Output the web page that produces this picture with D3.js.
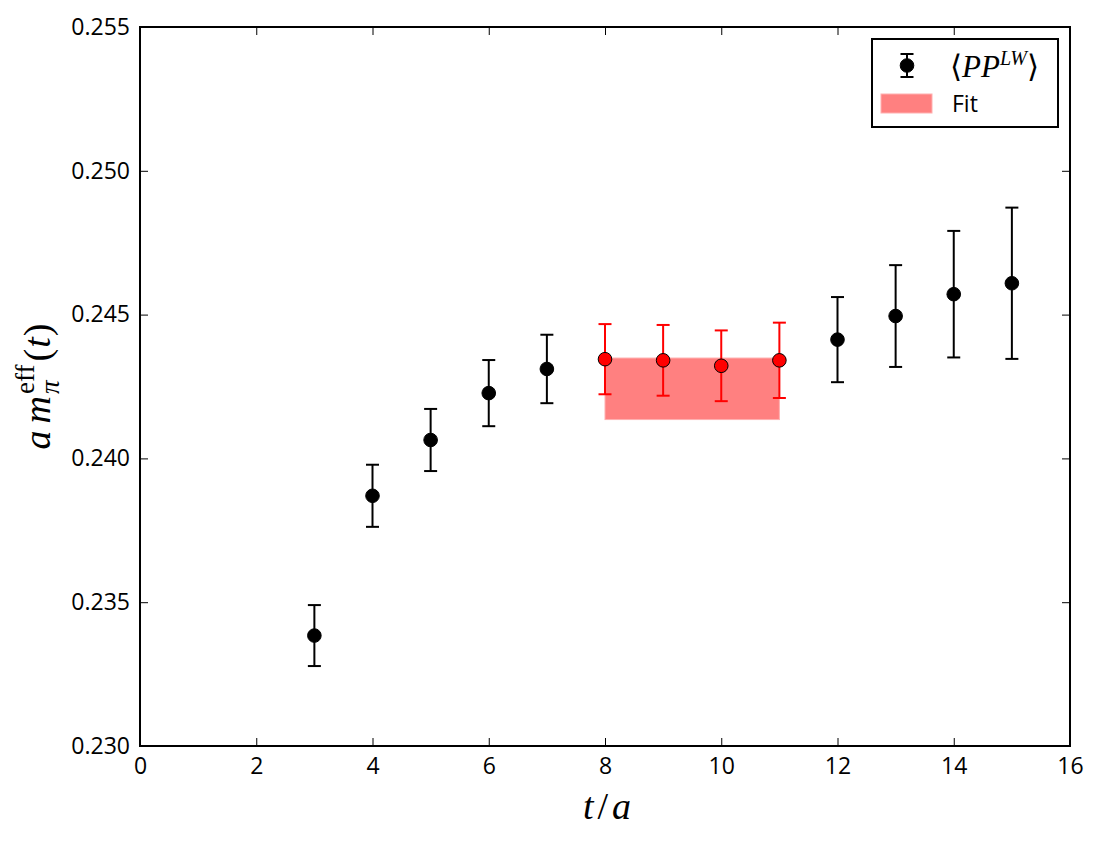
<!DOCTYPE html>
<html>
<head>
<meta charset="UTF-8">
<title>Effective pion mass</title>
<style>
  body { margin: 0; background: #fff; }
  .tick text { font-family: "Open Sans", sans-serif; font-size: 23px; fill: #000; }
  .tick line { stroke: #000; stroke-width: 1; }
  .math { font-family: "Liberation Serif", "DejaVu Serif", serif; }
</style>
</head>
<body>
<script src="https://d3js.org/d3.v7.min.js"></script>
<script>
// data (t/a, a m_eff, error)
var tAll   = [3, 4, 5, 6, 7, 12, 13, 14, 15];
var mAll   = [0.23384, 0.23870, 0.24064, 0.24227, 0.24311, 0.24413, 0.24495, 0.24571, 0.24609];
var errAll = [0.00106, 0.00108, 0.00108, 0.00115, 0.00119, 0.00148, 0.00177, 0.00220, 0.00263];

var tFit   = [8, 9, 10, 11];
var mFit   = [0.24345, 0.24341, 0.24322, 0.24341];
var errFit = [0.00122, 0.00123, 0.00123, 0.00131];

// fit band: [t start, t end], [low, high]
var fitRange = [8, 11];
var fitBand  = [0.24135, 0.24349];

var xTicks = [0, 2, 4, 6, 8, 10, 12, 14, 16];
var yTicks = [0.230, 0.235, 0.240, 0.245, 0.250, 0.255];

var W = 1100, H = 845;
var mLeft = 140, mRight = 1070, mTop = 27, mBottom = 746;

var svg = d3.select("body").append("svg")
  .attr("width", W).attr("height", H);

var x = d3.scaleLinear().domain([0, 16]).range([mLeft, mRight]);
var y = d3.scaleLinear().domain([0.230, 0.255]).range([mBottom, mTop]);

// axes, ticks inward on all four sides
svg.append("g").attr("transform", "translate(0," + mBottom + ")")
  .call(d3.axisBottom(x).tickValues(xTicks).tickFormat(d3.format("d"))
    .tickSizeInner(-8).tickSizeOuter(0).tickPadding(12))
  .call(function(g) { g.select(".domain").remove(); });

svg.append("g").attr("transform", "translate(" + mLeft + ",0)")
  .call(d3.axisLeft(y).tickValues(yTicks).tickFormat(d3.format(".3f"))
    .tickSizeInner(-8).tickSizeOuter(0).tickPadding(10))
  .call(function(g) { g.select(".domain").remove(); });

svg.append("g").attr("transform", "translate(0," + mTop + ")")
  .call(d3.axisTop(x).tickValues(xTicks).tickFormat("").tickSizeInner(-8).tickSizeOuter(0))
  .call(function(g) { g.select(".domain").remove(); });

svg.append("g").attr("transform", "translate(" + mRight + ",0)")
  .call(d3.axisRight(y).tickValues(yTicks).tickFormat("").tickSizeInner(-8).tickSizeOuter(0))
  .call(function(g) { g.select(".domain").remove(); });

// fit band (behind points)
svg.append("rect")
  .attr("x", x(fitRange[0])).attr("y", y(fitBand[1]))
  .attr("width", x(fitRange[1]) - x(fitRange[0]))
  .attr("height", y(fitBand[0]) - y(fitBand[1]))
  .attr("fill", "#ff8080").attr("stroke", "#ffb0b0").attr("stroke-width", 1);

function drawSeries(ts, ms, es, color, edge) {
  var data = ts.map(function(t, i) { return {t: t, m: ms[i], e: es[i]}; });
  var g = svg.append("g");
  var eb = g.selectAll(".eb").data(data).enter().append("g")
    .attr("stroke", color).attr("stroke-width", 2);
  eb.append("line")
    .attr("x1", function(d) { return x(d.t); }).attr("x2", function(d) { return x(d.t); })
    .attr("y1", function(d) { return y(d.m - d.e); }).attr("y2", function(d) { return y(d.m + d.e); });
  [-1, 1].forEach(function(s) {
    eb.append("line")
      .attr("x1", function(d) { return x(d.t) - 6.5; }).attr("x2", function(d) { return x(d.t) + 6.5; })
      .attr("y1", function(d) { return y(d.m + s * d.e); }).attr("y2", function(d) { return y(d.m + s * d.e); });
  });
  g.selectAll("circle").data(data).enter().append("circle")
    .attr("cx", function(d) { return x(d.t); })
    .attr("cy", function(d) { return y(d.m); })
    .attr("r", 6.8)
    .attr("fill", color).attr("stroke", edge).attr("stroke-width", 1);
}
drawSeries(tAll, mAll, errAll, "#000", "#000");
drawSeries(tFit, mFit, errFit, "#ff0000", "#000");

// frame
svg.append("rect")
  .attr("x", mLeft).attr("y", mTop)
  .attr("width", mRight - mLeft).attr("height", mBottom - mTop)
  .attr("fill", "none").attr("stroke", "#000").attr("stroke-width", 2);

// x label  t/a
var xl = svg.append("text").attr("class", "math")
  .attr("x", (mLeft + mRight) / 2 + 2).attr("y", 819)
  .attr("text-anchor", "middle").attr("font-size", 38);
xl.append("tspan").attr("font-style", "italic").text("t");
xl.append("tspan").attr("dx", 4).text("/");
xl.append("tspan").attr("dx", 4).attr("font-style", "italic").text("a");

// y label  a m^eff_pi (t)
function measure(str, size, italic) {
  var t = svg.append("text").attr("class", "math").attr("font-size", size)
    .attr("font-style", italic ? "italic" : "normal").text(str);
  var w = t.node().getComputedTextLength();
  t.remove();
  return w;
}
var effW = measure("eff", 27, false);
var piW = measure("\u03c0", 27, true);

var yl = svg.append("text").attr("class", "math")
  .attr("transform", "translate(50," + ((mTop + mBottom) / 2) + ") rotate(-90)")
  .attr("text-anchor", "middle").attr("font-size", 38);
yl.append("tspan").attr("font-style", "italic").text("a");
yl.append("tspan").attr("font-style", "italic").attr("dx", 7).text("m");
yl.append("tspan").attr("font-size", 27).attr("dy", -16).attr("dx", 2).text("eff");
yl.append("tspan").attr("font-size", 27).attr("font-style", "italic")
  .attr("dx", -effW).attr("dy", 25).text("\u03c0");
yl.append("tspan").attr("dx", effW - piW + 3).attr("dy", -9).text("(");
yl.append("tspan").attr("font-style", "italic").attr("dx", 1).text("t");
yl.append("tspan").attr("dx", 1).text(")");

// legend
var lg = svg.append("g");
lg.append("rect")
  .attr("x", 872).attr("y", 39).attr("width", 186).attr("height", 88)
  .attr("fill", "#fff").attr("stroke", "#000").attr("stroke-width", 2);
var lm = lg.append("g").attr("stroke", "#000").attr("stroke-width", 2);
lm.append("line").attr("x1", 907).attr("x2", 907).attr("y1", 54).attr("y2", 77);
lm.append("line").attr("x1", 900.5).attr("x2", 913.5).attr("y1", 54).attr("y2", 54);
lm.append("line").attr("x1", 900.5).attr("x2", 913.5).attr("y1", 77).attr("y2", 77);
lg.append("circle").attr("cx", 907).attr("cy", 65.5).attr("r", 6.8)
  .attr("fill", "#000").attr("stroke", "#000");
var ll = lg.append("text").attr("class", "math")
  .attr("x", 950).attr("y", 77).attr("font-size", 31);
ll.append("tspan").text("\u27e8");
ll.append("tspan").attr("font-style", "italic").text("PP");
ll.append("tspan").attr("font-style", "italic").attr("font-size", 20).attr("dy", -12).text("LW");
ll.append("tspan").attr("dy", 12).text("\u27e9");

lg.append("rect")
  .attr("x", 881).attr("y", 94).attr("width", 51).attr("height", 19)
  .attr("fill", "#ff8080").attr("stroke", "#ffb0b0").attr("stroke-width", 1);
lg.append("text")
  .attr("x", 952).attr("y", 112)
  .attr("font-family", "Open Sans, sans-serif").attr("font-size", 23)
  .text("Fit");
</script>
</body>
</html>
